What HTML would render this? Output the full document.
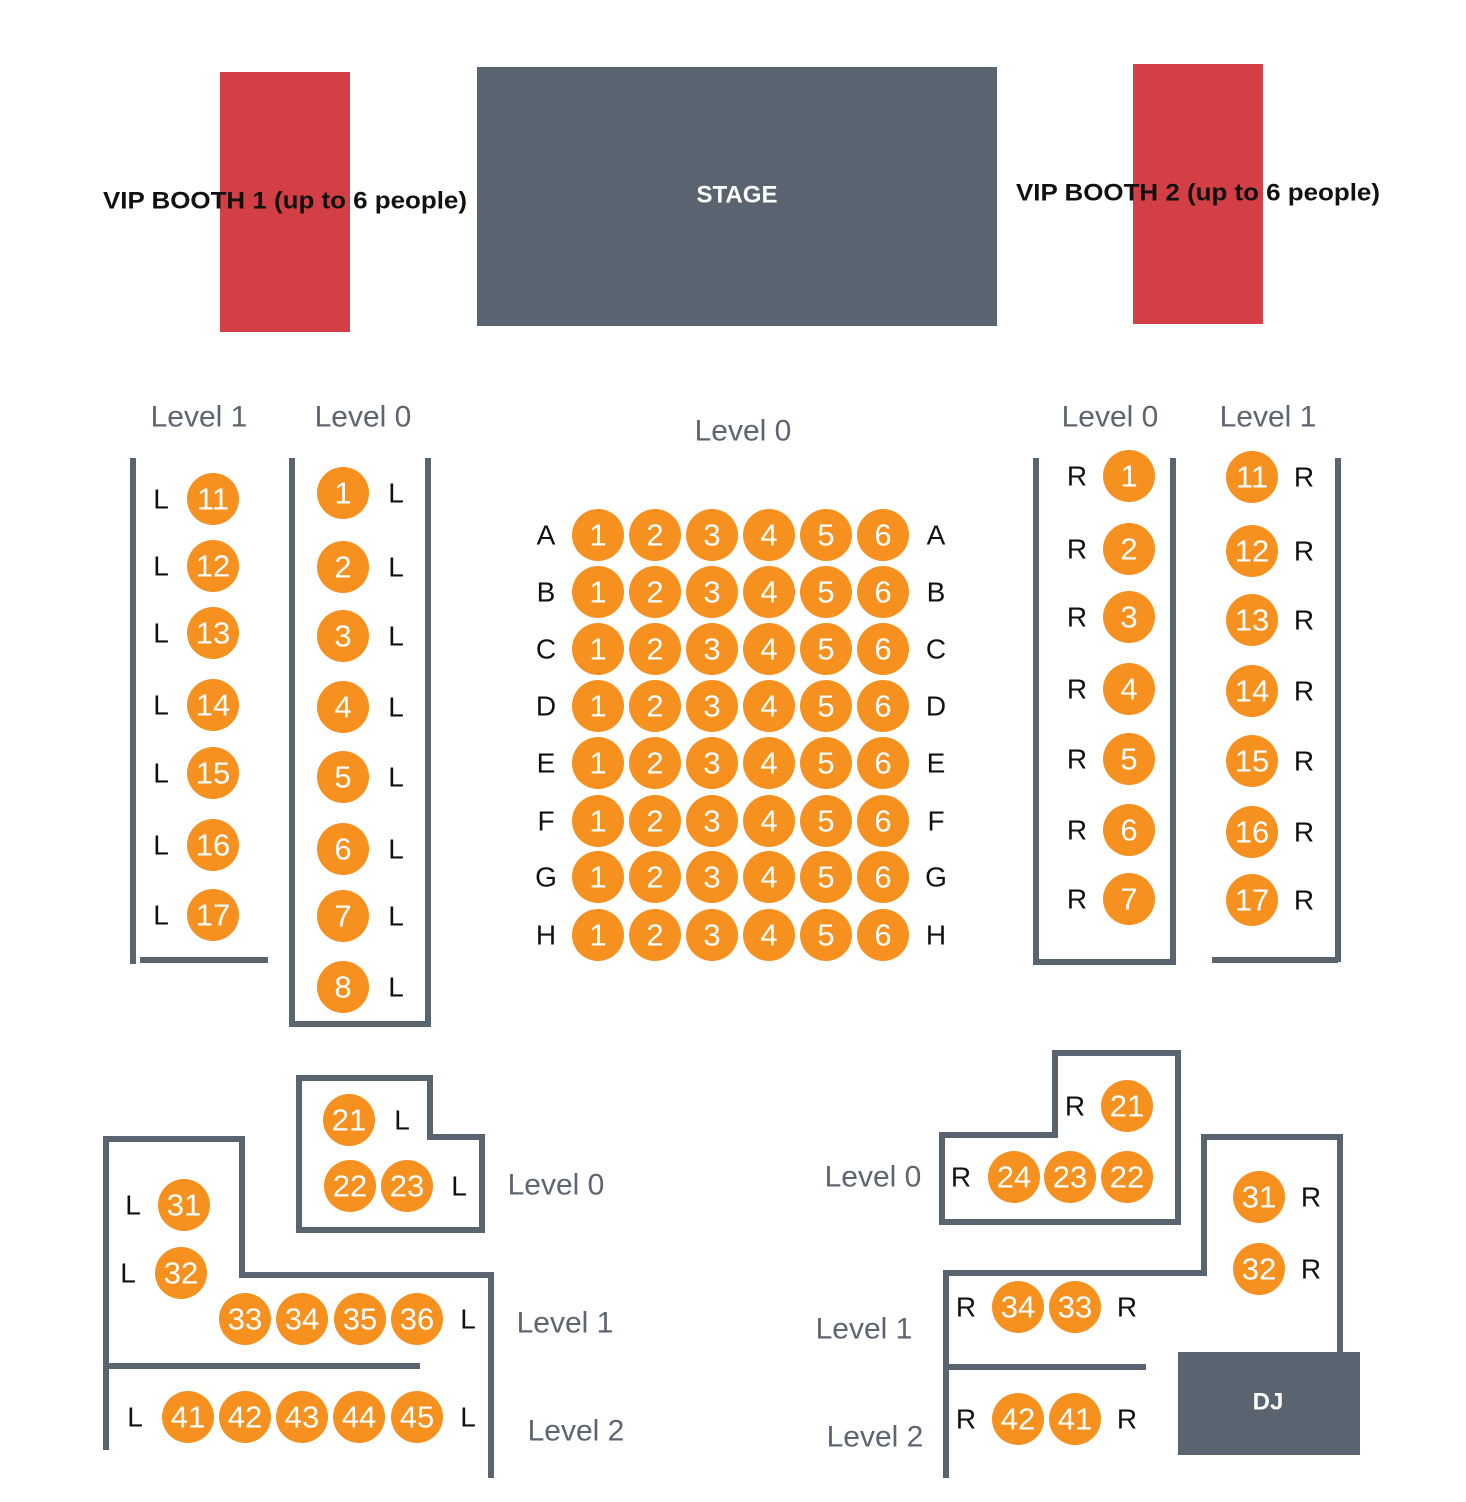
<!DOCTYPE html>
<html><head><meta charset="utf-8"><style>
html,body{margin:0;padding:0;background:#fff}
svg{display:block}
.s{fill:#f6901e}
.n{fill:#fff;font-family:"Liberation Sans",sans-serif;font-size:31px;text-anchor:middle;dominant-baseline:central}
.t{fill:#111;font-family:"Liberation Sans",sans-serif;font-size:28px;text-anchor:middle;dominant-baseline:central}
.lv{fill:#5d6570;font-family:"Liberation Sans",sans-serif;font-size:30px;text-anchor:middle;dominant-baseline:central}
.w{stroke:#5a6470;stroke-width:6;fill:none}
.b{font-family:"Liberation Sans",sans-serif;font-weight:bold;font-size:24px;text-anchor:middle;dominant-baseline:central}
</style></head><body>
<svg width="1466" height="1502" viewBox="0 0 1466 1502" xmlns="http://www.w3.org/2000/svg">
<rect x="220" y="72" width="130" height="260" fill="#d33f45"/>
<rect x="477" y="67" width="520" height="259" fill="#5a6470"/>
<rect x="1133" y="64" width="130" height="260" fill="#d33f45"/>
<text class="b" x="285" y="201" fill="#111" textLength="364" lengthAdjust="spacingAndGlyphs">VIP BOOTH 1 (up to 6 people)</text>
<text class="b" x="737" y="195" fill="#fff" textLength="81" lengthAdjust="spacingAndGlyphs">STAGE</text>
<text class="b" x="1198" y="193" fill="#111" textLength="364" lengthAdjust="spacingAndGlyphs">VIP BOOTH 2 (up to 6 people)</text>

<text class="lv" x="199" y="417">Level 1</text>
<text class="lv" x="363" y="417">Level 0</text>
<text class="lv" x="743" y="431">Level 0</text>
<text class="lv" x="1110" y="417">Level 0</text>
<text class="lv" x="1268" y="417">Level 1</text>

<path class="w" d="M133 458V964M140 960H268"/>
<path class="w" d="M292 458V1027M428 458V1027M292 1024H428"/>
<path class="w" d="M1036 458V962H1173V458"/>
<path class="w" d="M1338 458V962M1212 960H1338"/>

<g>
<circle class="s" cx="213" cy="499" r="26"/><text class="n" x="213" y="499">11</text><text class="t" x="161" y="499">L</text>
<circle class="s" cx="213" cy="566" r="26"/><text class="n" x="213" y="566">12</text><text class="t" x="161" y="566">L</text>
<circle class="s" cx="213" cy="633" r="26"/><text class="n" x="213" y="633">13</text><text class="t" x="161" y="633">L</text>
<circle class="s" cx="213" cy="705" r="26"/><text class="n" x="213" y="705">14</text><text class="t" x="161" y="705">L</text>
<circle class="s" cx="213" cy="773" r="26"/><text class="n" x="213" y="773">15</text><text class="t" x="161" y="773">L</text>
<circle class="s" cx="213" cy="845" r="26"/><text class="n" x="213" y="845">16</text><text class="t" x="161" y="845">L</text>
<circle class="s" cx="213" cy="915" r="26"/><text class="n" x="213" y="915">17</text><text class="t" x="161" y="915">L</text>

<circle class="s" cx="343" cy="493" r="26"/><text class="n" x="343" y="493">1</text><text class="t" x="396" y="493">L</text>
<circle class="s" cx="343" cy="567" r="26"/><text class="n" x="343" y="567">2</text><text class="t" x="396" y="567">L</text>
<circle class="s" cx="343" cy="636" r="26"/><text class="n" x="343" y="636">3</text><text class="t" x="396" y="636">L</text>
<circle class="s" cx="343" cy="707" r="26"/><text class="n" x="343" y="707">4</text><text class="t" x="396" y="707">L</text>
<circle class="s" cx="343" cy="777" r="26"/><text class="n" x="343" y="777">5</text><text class="t" x="396" y="777">L</text>
<circle class="s" cx="343" cy="849" r="26"/><text class="n" x="343" y="849">6</text><text class="t" x="396" y="849">L</text>
<circle class="s" cx="343" cy="916" r="26"/><text class="n" x="343" y="916">7</text><text class="t" x="396" y="916">L</text>
<circle class="s" cx="343" cy="987" r="26"/><text class="n" x="343" y="987">8</text><text class="t" x="396" y="987">L</text>

<circle class="s" cx="1129" cy="476" r="26"/><text class="n" x="1129" y="476">1</text><text class="t" x="1077" y="476">R</text>
<circle class="s" cx="1129" cy="549" r="26"/><text class="n" x="1129" y="549">2</text><text class="t" x="1077" y="549">R</text>
<circle class="s" cx="1129" cy="617" r="26"/><text class="n" x="1129" y="617">3</text><text class="t" x="1077" y="617">R</text>
<circle class="s" cx="1129" cy="689" r="26"/><text class="n" x="1129" y="689">4</text><text class="t" x="1077" y="689">R</text>
<circle class="s" cx="1129" cy="759" r="26"/><text class="n" x="1129" y="759">5</text><text class="t" x="1077" y="759">R</text>
<circle class="s" cx="1129" cy="830" r="26"/><text class="n" x="1129" y="830">6</text><text class="t" x="1077" y="830">R</text>
<circle class="s" cx="1129" cy="899" r="26"/><text class="n" x="1129" y="899">7</text><text class="t" x="1077" y="899">R</text>

<circle class="s" cx="1252" cy="477" r="26"/><text class="n" x="1252" y="477">11</text><text class="t" x="1304" y="477">R</text>
<circle class="s" cx="1252" cy="551" r="26"/><text class="n" x="1252" y="551">12</text><text class="t" x="1304" y="551">R</text>
<circle class="s" cx="1252" cy="620" r="26"/><text class="n" x="1252" y="620">13</text><text class="t" x="1304" y="620">R</text>
<circle class="s" cx="1252" cy="691" r="26"/><text class="n" x="1252" y="691">14</text><text class="t" x="1304" y="691">R</text>
<circle class="s" cx="1252" cy="761" r="26"/><text class="n" x="1252" y="761">15</text><text class="t" x="1304" y="761">R</text>
<circle class="s" cx="1252" cy="832" r="26"/><text class="n" x="1252" y="832">16</text><text class="t" x="1304" y="832">R</text>
<circle class="s" cx="1252" cy="900" r="26"/><text class="n" x="1252" y="900">17</text><text class="t" x="1304" y="900">R</text>
</g>

<g>
<text class="t" x="546" y="535">A</text><text class="t" x="936" y="535">A</text>
<circle class="s" cx="598" cy="535" r="26"/><text class="n" x="598" y="535">1</text>
<circle class="s" cx="655" cy="535" r="26"/><text class="n" x="655" y="535">2</text>
<circle class="s" cx="712" cy="535" r="26"/><text class="n" x="712" y="535">3</text>
<circle class="s" cx="769" cy="535" r="26"/><text class="n" x="769" y="535">4</text>
<circle class="s" cx="826" cy="535" r="26"/><text class="n" x="826" y="535">5</text>
<circle class="s" cx="883" cy="535" r="26"/><text class="n" x="883" y="535">6</text>

<text class="t" x="546" y="592">B</text><text class="t" x="936" y="592">B</text>
<circle class="s" cx="598" cy="592" r="26"/><text class="n" x="598" y="592">1</text>
<circle class="s" cx="655" cy="592" r="26"/><text class="n" x="655" y="592">2</text>
<circle class="s" cx="712" cy="592" r="26"/><text class="n" x="712" y="592">3</text>
<circle class="s" cx="769" cy="592" r="26"/><text class="n" x="769" y="592">4</text>
<circle class="s" cx="826" cy="592" r="26"/><text class="n" x="826" y="592">5</text>
<circle class="s" cx="883" cy="592" r="26"/><text class="n" x="883" y="592">6</text>

<text class="t" x="546" y="649">C</text><text class="t" x="936" y="649">C</text>
<circle class="s" cx="598" cy="649" r="26"/><text class="n" x="598" y="649">1</text>
<circle class="s" cx="655" cy="649" r="26"/><text class="n" x="655" y="649">2</text>
<circle class="s" cx="712" cy="649" r="26"/><text class="n" x="712" y="649">3</text>
<circle class="s" cx="769" cy="649" r="26"/><text class="n" x="769" y="649">4</text>
<circle class="s" cx="826" cy="649" r="26"/><text class="n" x="826" y="649">5</text>
<circle class="s" cx="883" cy="649" r="26"/><text class="n" x="883" y="649">6</text>

<text class="t" x="546" y="706">D</text><text class="t" x="936" y="706">D</text>
<circle class="s" cx="598" cy="706" r="26"/><text class="n" x="598" y="706">1</text>
<circle class="s" cx="655" cy="706" r="26"/><text class="n" x="655" y="706">2</text>
<circle class="s" cx="712" cy="706" r="26"/><text class="n" x="712" y="706">3</text>
<circle class="s" cx="769" cy="706" r="26"/><text class="n" x="769" y="706">4</text>
<circle class="s" cx="826" cy="706" r="26"/><text class="n" x="826" y="706">5</text>
<circle class="s" cx="883" cy="706" r="26"/><text class="n" x="883" y="706">6</text>

<text class="t" x="546" y="763">E</text><text class="t" x="936" y="763">E</text>
<circle class="s" cx="598" cy="763" r="26"/><text class="n" x="598" y="763">1</text>
<circle class="s" cx="655" cy="763" r="26"/><text class="n" x="655" y="763">2</text>
<circle class="s" cx="712" cy="763" r="26"/><text class="n" x="712" y="763">3</text>
<circle class="s" cx="769" cy="763" r="26"/><text class="n" x="769" y="763">4</text>
<circle class="s" cx="826" cy="763" r="26"/><text class="n" x="826" y="763">5</text>
<circle class="s" cx="883" cy="763" r="26"/><text class="n" x="883" y="763">6</text>

<text class="t" x="546" y="821">F</text><text class="t" x="936" y="821">F</text>
<circle class="s" cx="598" cy="821" r="26"/><text class="n" x="598" y="821">1</text>
<circle class="s" cx="655" cy="821" r="26"/><text class="n" x="655" y="821">2</text>
<circle class="s" cx="712" cy="821" r="26"/><text class="n" x="712" y="821">3</text>
<circle class="s" cx="769" cy="821" r="26"/><text class="n" x="769" y="821">4</text>
<circle class="s" cx="826" cy="821" r="26"/><text class="n" x="826" y="821">5</text>
<circle class="s" cx="883" cy="821" r="26"/><text class="n" x="883" y="821">6</text>

<text class="t" x="546" y="877">G</text><text class="t" x="936" y="877">G</text>
<circle class="s" cx="598" cy="877" r="26"/><text class="n" x="598" y="877">1</text>
<circle class="s" cx="655" cy="877" r="26"/><text class="n" x="655" y="877">2</text>
<circle class="s" cx="712" cy="877" r="26"/><text class="n" x="712" y="877">3</text>
<circle class="s" cx="769" cy="877" r="26"/><text class="n" x="769" y="877">4</text>
<circle class="s" cx="826" cy="877" r="26"/><text class="n" x="826" y="877">5</text>
<circle class="s" cx="883" cy="877" r="26"/><text class="n" x="883" y="877">6</text>

<text class="t" x="546" y="935">H</text><text class="t" x="936" y="935">H</text>
<circle class="s" cx="598" cy="935" r="26"/><text class="n" x="598" y="935">1</text>
<circle class="s" cx="655" cy="935" r="26"/><text class="n" x="655" y="935">2</text>
<circle class="s" cx="712" cy="935" r="26"/><text class="n" x="712" y="935">3</text>
<circle class="s" cx="769" cy="935" r="26"/><text class="n" x="769" y="935">4</text>
<circle class="s" cx="826" cy="935" r="26"/><text class="n" x="826" y="935">5</text>
<circle class="s" cx="883" cy="935" r="26"/><text class="n" x="883" y="935">6</text>
</g>

<path class="w" d="M299 1078H430V1137H482V1230H299Z"/>
<circle class="s" cx="349" cy="1120" r="26"/><text class="n" x="349" y="1120">21</text><text class="t" x="402" y="1120">L</text>
<circle class="s" cx="350" cy="1186" r="26"/><text class="n" x="350" y="1186">22</text>
<circle class="s" cx="407" cy="1186" r="26"/><text class="n" x="407" y="1186">23</text><text class="t" x="459" y="1186">L</text>
<text class="lv" x="556" y="1185">Level 0</text>

<path class="w" d="M106 1450V1139H242V1275H491V1478M106 1366H420"/>
<circle class="s" cx="184" cy="1205" r="26"/><text class="n" x="184" y="1205">31</text><text class="t" x="133" y="1205">L</text>
<circle class="s" cx="181" cy="1273" r="26"/><text class="n" x="181" y="1273">32</text><text class="t" x="128" y="1273">L</text>
<circle class="s" cx="245" cy="1319" r="26"/><text class="n" x="245" y="1319">33</text>
<circle class="s" cx="302" cy="1319" r="26"/><text class="n" x="302" y="1319">34</text>
<circle class="s" cx="360" cy="1319" r="26"/><text class="n" x="360" y="1319">35</text>
<circle class="s" cx="417" cy="1319" r="26"/><text class="n" x="417" y="1319">36</text><text class="t" x="468" y="1319">L</text>
<text class="lv" x="565" y="1323">Level 1</text>
<text class="t" x="135" y="1417">L</text>
<circle class="s" cx="188" cy="1417" r="26"/><text class="n" x="188" y="1417">41</text>
<circle class="s" cx="245" cy="1417" r="26"/><text class="n" x="245" y="1417">42</text>
<circle class="s" cx="302" cy="1417" r="26"/><text class="n" x="302" y="1417">43</text>
<circle class="s" cx="359" cy="1417" r="26"/><text class="n" x="359" y="1417">44</text>
<circle class="s" cx="417" cy="1417" r="26"/><text class="n" x="417" y="1417">45</text><text class="t" x="468" y="1417">L</text>
<text class="lv" x="576" y="1431">Level 2</text>

<path class="w" d="M942 1225V1135H1055V1053H1178V1222H942"/>
<text class="t" x="1075" y="1106">R</text>
<circle class="s" cx="1127" cy="1106" r="26"/><text class="n" x="1127" y="1106">21</text>
<text class="t" x="961" y="1177">R</text>
<circle class="s" cx="1014" cy="1177" r="26"/><text class="n" x="1014" y="1177">24</text>
<circle class="s" cx="1070" cy="1177" r="26"/><text class="n" x="1070" y="1177">23</text>
<circle class="s" cx="1127" cy="1177" r="26"/><text class="n" x="1127" y="1177">22</text>
<text class="lv" x="873" y="1177">Level 0</text>

<path class="w" d="M946 1478V1273H1204V1137H1340V1355M946 1367H1146"/>
<rect x="1178" y="1352" width="182" height="103" fill="#5a6470"/>
<text class="b" x="1268" y="1402" fill="#fff">DJ</text>
<circle class="s" cx="1259" cy="1197" r="26"/><text class="n" x="1259" y="1197">31</text><text class="t" x="1311" y="1197">R</text>
<circle class="s" cx="1259" cy="1269" r="26"/><text class="n" x="1259" y="1269">32</text><text class="t" x="1311" y="1269">R</text>
<text class="t" x="966" y="1307">R</text>
<circle class="s" cx="1018" cy="1307" r="26"/><text class="n" x="1018" y="1307">34</text>
<circle class="s" cx="1075" cy="1307" r="26"/><text class="n" x="1075" y="1307">33</text>
<text class="t" x="1127" y="1307">R</text>
<text class="lv" x="864" y="1329">Level 1</text>
<text class="t" x="966" y="1419">R</text>
<circle class="s" cx="1018" cy="1419" r="26"/><text class="n" x="1018" y="1419">42</text>
<circle class="s" cx="1075" cy="1419" r="26"/><text class="n" x="1075" y="1419">41</text>
<text class="t" x="1127" y="1419">R</text>
<text class="lv" x="875" y="1437">Level 2</text>
</svg>
</body></html>
